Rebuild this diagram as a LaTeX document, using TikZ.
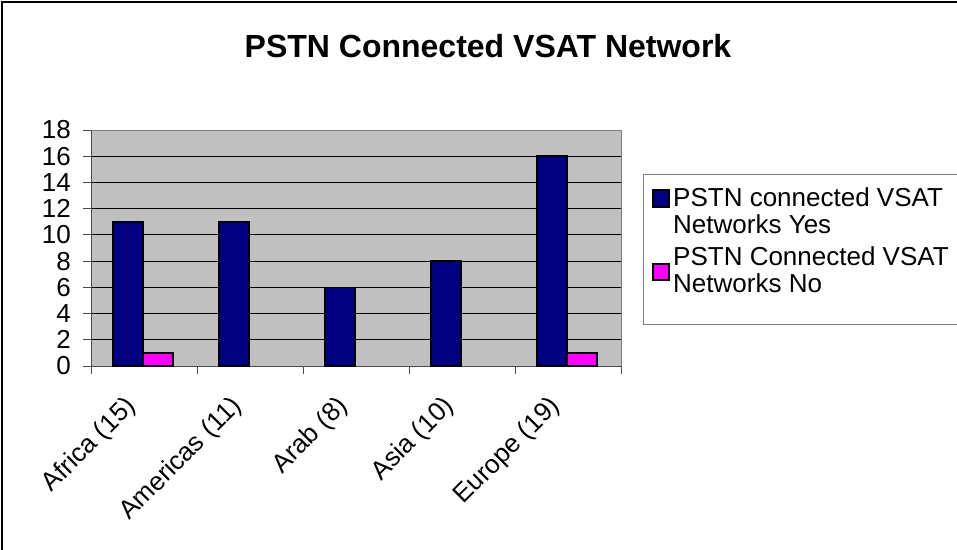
\documentclass[tikz,border=0pt]{standalone}
\usepackage{fontspec}
\setmainfont{Liberation Sans}
\definecolor{plotgray}{RGB}{192,192,192}
\definecolor{yesblue}{RGB}{0,0,128}
\definecolor{nopink}{RGB}{255,0,255}

\begin{document}
\begin{tikzpicture}[x=1pt,y=-1pt,
		bar/.style={draw=black,line width=1.5pt},
		lbl/.style={font=\fontsize{26}{29}\selectfont,inner sep=0pt}]
			\useasboundingbox (0,0) rectangle (957,549);
			%Frame
			\draw[line width=2pt] (2,2) rectangle (975,565);
			\node[font=\bfseries\fontsize{32}{36}\selectfont,inner sep=0pt,anchor=base] (title) at (488,57) {PSTN Connected VSAT Network};
			\begin{scope}[shift={(91,366)},x=1pt,y=13.111pt]
				%Plot area
				\path[fill=plotgray, draw=gray, line width=1pt] (0,0) rectangle (530,18);
				\foreach \v in {2,4,...,16}
					\draw[line width=0.9pt] (0,\v) -- (530,\v);
				%Axis
				\draw[line width=1pt,black!70] (0,18) -- (0,0) -- (530,0);
				\foreach \v in {0,2,...,18} {
					\draw[line width=1pt,black!70] (-8,\v) -- (0,\v);
					\node[lbl,anchor=east] (ylab\v) at (-20,\v) {\v};
				}
				\foreach \i in {0,...,5}
					\draw[line width=1pt,black!70] (106*\i,0) -- (106*\i,-0.6);
				%Bars
				\foreach \i/\yes in {0/11,1/11,2/6,3/8,4/16}
					\path[bar,fill=yesblue] (106*\i+22,0) rectangle (106*\i+52,\yes);
				\foreach \i/\no in {0/1,4/1}
					\path[bar,fill=nopink] (106*\i+52,0) rectangle (106*\i+82,\no);
				%Categories
				\foreach \i/\name/\cat in {0/Africa (15)/africa,1/Americas (11)/americas,2/Arab (8)/arab,3/Asia (10)/asia,4/Europe (19)/europe}
					\node[lbl,rotate=45,anchor=east] (\cat) at (106*\i+41,-2.8) {\name};
			\end{scope}
			%Legend
			\draw[gray,line width=1pt] (643,174) rectangle (975,324);
			\path[fill=yesblue, draw=black, line width=1.2pt] (653,190) rectangle (669,207);
			\path[fill=nopink, draw=black, line width=1.2pt] (653,264) rectangle (669,280);
			\node[lbl,anchor=base west] (yes1) at (673,206) {PSTN connected VSAT};
			\node[lbl,anchor=base west] (yes2) at (673,233) {Networks Yes};
			\node[lbl,anchor=base west] (no1) at (673,265) {PSTN Connected VSAT};
			\node[lbl,anchor=base west] (no2) at (673,292) {Networks No};
		\end{tikzpicture}
\end{document}
